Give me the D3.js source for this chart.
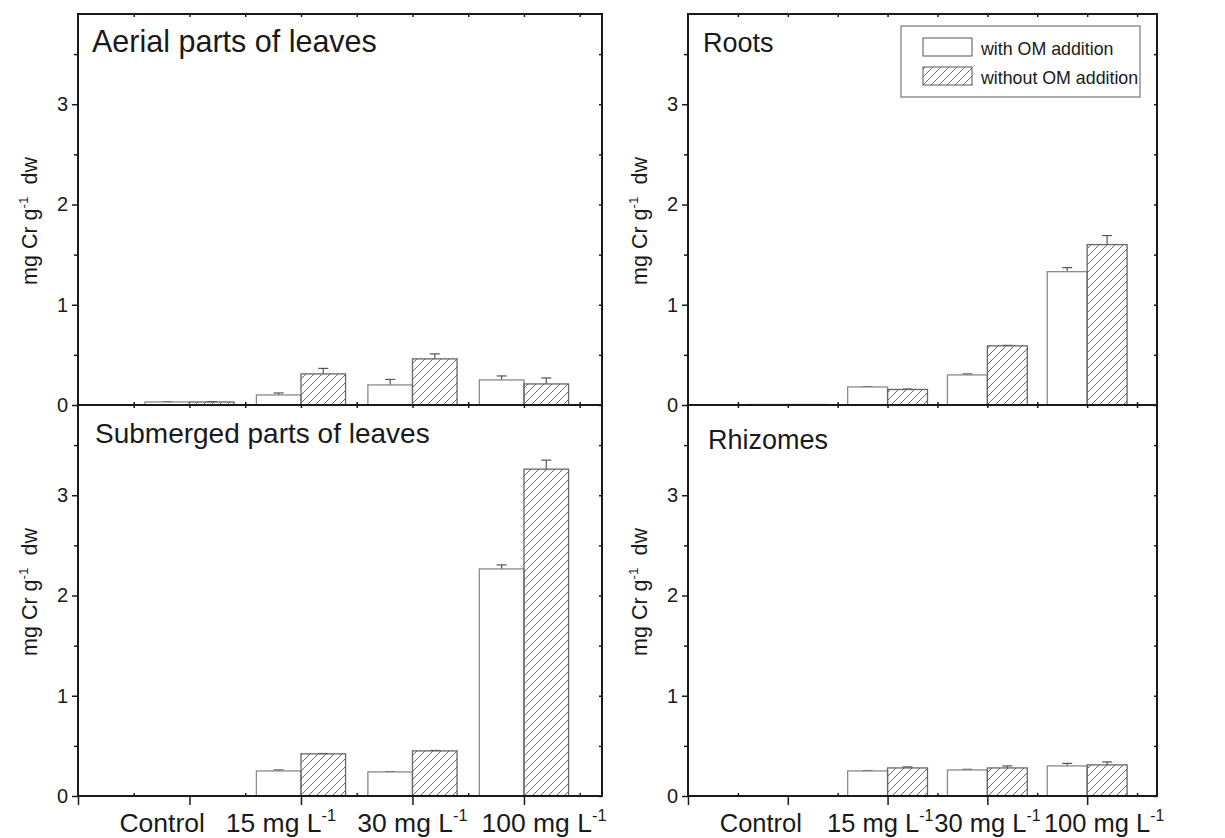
<!DOCTYPE html>
<html><head><meta charset="utf-8">
<script src="https://cdn.jsdelivr.net/npm/d3@7"></script>
<style>
body{margin:0;background:#fff}
svg{display:block}
text{font-family:"Liberation Sans",Arial,Helvetica,sans-serif;fill:#1a1a1a}
</style>
</head><body>
<svg id="chart" width="1225" height="838"></svg>
<script>
// ---------- data ----------
const categories = ["Control", "15 mg L", "30 mg L", "100 mg L"];
const categorySup = ["", "-1", "-1", "-1"];
const seriesNames = ["with OM addition", "without OM addition"];
const yTicks = [0, 1, 2, 3];
const yMinorTicks = [0.5, 1.5, 2.5, 3.5];

const aerialWith       = [0.03, 0.10, 0.20, 0.25];
const aerialWithErr    = [0.004, 0.02, 0.055, 0.04];
const aerialWithout    = [0.03, 0.31, 0.46, 0.21];
const aerialWithoutErr = [0.004, 0.055, 0.05, 0.06];

const rootsWith        = [0.005, 0.18, 0.30, 1.33];
const rootsWithErr     = [0, 0.004, 0.01, 0.04];
const rootsWithout     = [0.005, 0.155, 0.59, 1.60];
const rootsWithoutErr  = [0, 0.004, 0.005, 0.09];

const submergedWith       = [0, 0.25, 0.24, 2.265];
const submergedWithErr    = [0, 0.01, 0.004, 0.04];
const submergedWithout    = [0, 0.42, 0.45, 3.26];
const submergedWithoutErr = [0, 0.004, 0.004, 0.09];

const rhizomesWith       = [0, 0.25, 0.26, 0.30];
const rhizomesWithErr    = [0, 0.004, 0.006, 0.025];
const rhizomesWithout    = [0, 0.28, 0.28, 0.31];
const rhizomesWithoutErr = [0, 0.01, 0.02, 0.03];

// ---------- layout ----------
const svg = d3.select("#chart");
const FONT = '"Liberation Sans",Arial,Helvetica,sans-serif';
const barW = 0.4;

const defs = svg.append("defs");
defs.append("pattern").attr("id", "hatch").attr("patternUnits", "userSpaceOnUse")
  .attr("width", 8).attr("height", 8)
  .append("path").attr("d", "M-1,1 l2,-2 M0,8 l8,-8 M7,9 l2,-2")
  .attr("stroke", "#444").attr("stroke-width", 0.8);

const panels = [
  {title: "Aerial parts of leaves", w: aerialWith, we: aerialWithErr, wo: aerialWithout, woe: aerialWithoutErr,
   left: 78, right: 602, top: 14, bottom: 405, tx: 92, ty: 52, tfs: 30.5, xLabels: false, labelOff: null, lfs: 0, yTitleX: 37, yTitleY: 221},
  {title: "Roots", w: rootsWith, we: rootsWithErr, wo: rootsWithout, woe: rootsWithoutErr,
   left: 688, right: 1157, top: 14, bottom: 405, tx: 703, ty: 52, tfs: 27, xLabels: false, labelOff: null, lfs: 0, yTitleX: 647, yTitleY: 221},
  {title: "Submerged parts of leaves", w: submergedWith, we: submergedWithErr, wo: submergedWithout, woe: submergedWithoutErr,
   left: 78, right: 602, top: 405, bottom: 796, tx: 95, ty: 443, tfs: 28, xLabels: true, labelOff: [-0.245, -0.18, 0.0, 0.18], lfs: 26.5, yTitleX: 37, yTitleY: 592},
  {title: "Rhizomes", w: rhizomesWith, we: rhizomesWithErr, wo: rhizomesWithout, woe: rhizomesWithoutErr,
   left: 688, right: 1157, top: 405, bottom: 796, tx: 708, ty: 449, tfs: 27, xLabels: true, labelOff: [-0.27, -0.075, 0.0, 0.17], lfs: 25.5, yTitleX: 647, yTitleY: 592}
];

function styleAxis(g) {
  g.select(".domain").remove();
  g.selectAll("line").attr("stroke", "#1a1a1a").attr("stroke-width", 1.5);
  g.selectAll("text").attr("font-family", FONT).attr("fill", "#1a1a1a");
}

panels.forEach(p => {
  const x = d3.scaleLinear().domain([0, 4.7]).range([p.left, p.right]);
  const y = d3.scaleLinear().domain([0, 3.9]).range([p.bottom, p.top]);
  const g = svg.append("g");
  const data = categories.map((c, i) => ({pos: i + 1, w: p.w[i], we: p.we[i], wo: p.wo[i], woe: p.woe[i]}));

  const eb = (val, err, cx) => {
    if (err <= 0 || val <= 0) return;
    g.append("line").attr("x1", cx).attr("x2", cx).attr("y1", y(val)).attr("y2", y(val + err))
      .attr("stroke", "#555").attr("stroke-width", 1.2);
    g.append("line").attr("x1", cx - 5).attr("x2", cx + 5).attr("y1", y(val + err)).attr("y2", y(val + err))
      .attr("stroke", "#555").attr("stroke-width", 1.2);
  };
  data.forEach(d => {
    eb(d.w, d.we, x(d.pos - barW / 2));
    eb(d.wo, d.woe, x(d.pos + barW / 2));
  });

  g.selectAll(".bw").data(data.filter(d => d.w > 0)).join("rect")
    .attr("x", d => x(d.pos - barW)).attr("width", d => x(d.pos) - x(d.pos - barW))
    .attr("y", d => y(d.w)).attr("height", d => y(0) - y(d.w))
    .attr("fill", "#fff").attr("stroke", "#8a8a8a").attr("stroke-width", 1.3);
  g.selectAll(".bwo").data(data.filter(d => d.wo > 0)).join("rect")
    .attr("x", d => x(d.pos)).attr("width", d => x(d.pos + barW) - x(d.pos))
    .attr("y", d => y(d.wo)).attr("height", d => y(0) - y(d.wo))
    .attr("fill", "url(#hatch)").attr("stroke", "#666").attr("stroke-width", 1.3);

  const yl = g.append("g").attr("transform", `translate(${p.left},0)`)
    .call(d3.axisLeft(y).tickValues(yTicks).tickSize(6).tickPadding(4).tickFormat(d3.format("d")));
  styleAxis(yl);
  yl.selectAll("text").attr("font-size", 20);
  const ylm = g.append("g").attr("transform", `translate(${p.left},0)`)
    .call(d3.axisLeft(y).tickValues(yMinorTicks).tickSize(4).tickFormat(""));
  styleAxis(ylm);
  const yr = g.append("g").attr("transform", `translate(${p.right},0)`)
    .call(d3.axisLeft(y).tickValues(yTicks.concat(yMinorTicks)).tickSize(3).tickFormat(""));
  styleAxis(yr);

  const xb = g.append("g").attr("transform", `translate(0,${p.bottom})`)
    .call(d3.axisBottom(x).tickValues([0, 1, 2, 3, 4]).tickSize(p.xLabels ? 9 : 0).tickFormat(""));
  styleAxis(xb);
  const xbm = g.append("g").attr("transform", `translate(0,${p.bottom})`)
    .call(d3.axisTop(x).tickValues([0.5, 1.5, 2.5, 3.5, 4.5]).tickSize(3).tickFormat(""));
  styleAxis(xbm);
  const xt = g.append("g").attr("transform", `translate(0,${p.top})`)
    .call(d3.axisBottom(x).tickValues([0.5, 1, 1.5, 2, 2.5, 3, 3.5, 4, 4.5]).tickSize(3).tickFormat(""));
  styleAxis(xt);

  g.append("rect").attr("x", p.left).attr("y", p.top).attr("width", p.right - p.left).attr("height", p.bottom - p.top)
    .attr("fill", "none").attr("stroke", "#1a1a1a").attr("stroke-width", 2);

  if (p.xLabels) {
    categories.forEach((c, i) => {
      const t = g.append("text").attr("x", x(i + 1 + p.labelOff[i])).attr("y", 832)
        .attr("text-anchor", "middle").attr("font-size", p.lfs);
      t.append("tspan").text(c);
      if (categorySup[i]) t.append("tspan").attr("dy", -11).attr("font-size", p.lfs * 0.62).text(categorySup[i]);
    });
  }

  g.append("text").attr("x", p.tx).attr("y", p.ty).attr("font-size", p.tfs).text(p.title);

  const yt = g.append("text").attr("transform", `translate(${p.yTitleX},${p.yTitleY}) rotate(-90)`)
    .attr("text-anchor", "middle").attr("font-size", 21.5);
  yt.append("tspan").text("mg Cr g");
  yt.append("tspan").attr("dy", -9).attr("font-size", 13.5).text("-1");
  yt.append("tspan").attr("dy", 9).text("\u00a0\u00a0dw");
});

// legend
const lg = svg.append("g");
lg.append("rect").attr("x", 901).attr("y", 26).attr("width", 239).attr("height", 71)
  .attr("fill", "#fff").attr("stroke", "#777").attr("stroke-width", 1.2);
seriesNames.forEach((s, i) => {
  lg.append("rect").attr("x", 923).attr("y", 38 + i * 29).attr("width", 49).attr("height", 18)
    .attr("fill", i === 0 ? "#fff" : "url(#hatch)").attr("stroke", "#555").attr("stroke-width", 1);
  lg.append("text").attr("x", 981).attr("y", 55 + i * 29).attr("font-size", 17.8).text(s);
});
</script>
</body></html>
